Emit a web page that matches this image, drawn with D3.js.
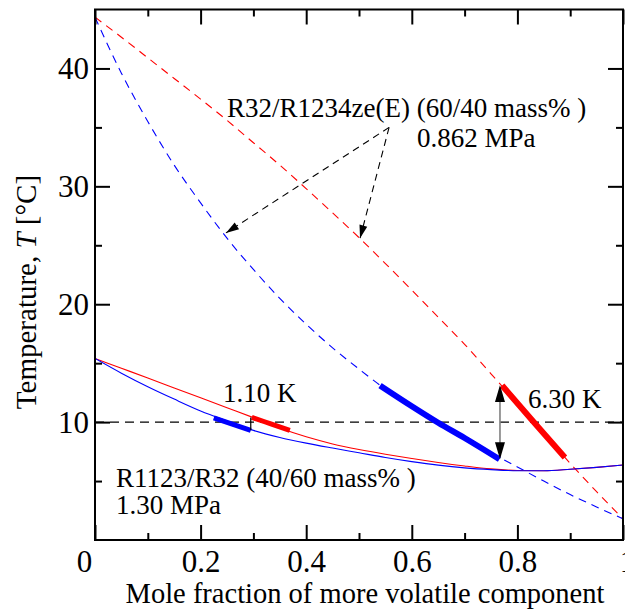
<!DOCTYPE html>
<html>
<head>
<meta charset="utf-8">
<script src="https://cdn.jsdelivr.net/npm/d3@7"></script>
<style>
  body { margin: 0; background: #fff; }
  svg { display: block; }
  text { font-family: "Liberation Serif", "Times New Roman", serif; fill: #000; }
</style>
</head>
<body>
<svg id="chart" width="625" height="611"></svg>
<script>
// Mole fraction of the more volatile component (shared grid)
const moleFrac = [0, 0.05, 0.1, 0.15, 0.2, 0.25, 0.3, 0.35, 0.4, 0.45, 0.5,
                  0.55, 0.6, 0.65, 0.7, 0.75, 0.8, 0.85, 0.9, 0.95, 1.0];

// R1123/R32 (40/60 mass%) at 1.30 MPa — saturation temperatures [°C]
const r1123Bubble = [15.4, 14.15, 13.0, 11.95, 10.95, 10.1, 9.3, 8.7, 8.22, 7.8, 7.4,
                     7.0, 6.65, 6.35, 6.12, 5.97, 5.88, 5.88, 6.0, 6.16, 6.36];
const r1123Dew    = [15.4, 14.57, 13.74, 12.9, 12.06, 11.22, 10.38, 9.5, 8.75, 8.15, 7.68,
                     7.28, 6.92, 6.58, 6.28, 6.03, 5.9, 5.88, 6.0, 6.16, 6.36];

// R32/R1234ze(E) (60/40 mass%) at 0.862 MPa — saturation temperatures [°C]
const zeBubble = [44.35, 39.6, 35.5, 31.8, 28.6, 25.6, 22.95, 20.5, 18.3, 16.3, 14.5,
                  12.8, 11.35, 9.95, 8.65, 7.4, 6.2, 5.0, 3.85, 2.8, 1.8];
const zeDew    = [44.35, 42.65, 40.9, 39.15, 37.4, 35.6, 33.7, 31.8, 29.8, 27.75, 25.65,
                  23.45, 21.2, 18.9, 16.6, 14.1, 11.6, 9.05, 6.5, 4.1, 1.8];

// Operating (glide) segments on each curve: [mole fraction, T]
const r1123BubbleSeg = [[0.225, 10.35], [0.26, 9.82], [0.295, 9.3]];
const r1123DewSeg    = [[0.297, 10.4], [0.333, 9.85], [0.369, 9.3]];
const zeBubbleSeg    = [[0.54, 13.1], [0.6, 11.35], [0.65, 9.95], [0.7, 8.65], [0.766, 6.85]];
const zeDewSeg       = [[0.771, 13.1], [0.83, 10.05], [0.89, 7.0]];

// Temperature glides and where they are marked
const glideK   = [1.10, 6.30];
const glideX   = [0.295, 0.767];
const glideTop = [10.4, 13.15];

// Reference isotherm
const isothermT = 10;

// Axis ticks
const xMajor = [0, 0.2, 0.4, 0.6, 0.8, 1.0];
const xMinor = [0.1, 0.3, 0.5, 0.7, 0.9];
const yMajor = [10, 20, 30, 40];
const yMinor = [5, 15, 25, 35];

// Callout for the R32/R1234ze(E) pair: common origin and two arrow tips
const calloutFrom = [0.557, 35.0];
const calloutTips = [[0.248, 26.05], [0.502, 25.6]];

const svg = d3.select("#chart");
const m = { left: 95, right: 2, top: 9.5, bottom: 71 };
const W = 625, H = 611;
const x = d3.scaleLinear().domain([0, 1]).range([m.left, W - m.right]);
const y = d3.scaleLinear().domain([0, 45]).range([H - m.bottom, m.top]);

svg.append("defs").append("clipPath").attr("id", "plotClip")
  .append("rect")
  .attr("x", x(0)).attr("y", y(45))
  .attr("width", x(1) - x(0)).attr("height", y(0) - y(45));

const plot = svg.append("g").attr("clip-path", "url(#plotClip)");

const curve = d3.line().x(d => x(d[0])).y(d => y(d[1])).curve(d3.curveMonotoneX);
const pairs = vals => moleFrac.map((f, i) => [f, vals[i]]);

// Isotherm
plot.append("line")
  .attr("x1", x(0)).attr("x2", x(1))
  .attr("y1", y(isothermT)).attr("y2", y(isothermT))
  .attr("stroke", "#000").attr("stroke-width", 1.1).attr("stroke-dasharray", "9,6");

// Saturation curves
const curves = [
  { data: zeDew, color: "#ff0000", dash: "8,6" },
  { data: zeBubble, color: "#0000ff", dash: "8,6" },
  { data: r1123Dew, color: "#ff0000", dash: null },
  { data: r1123Bubble, color: "#0000ff", dash: null }
];
curves.forEach(c => {
  plot.append("path")
    .attr("d", curve(pairs(c.data)))
    .attr("fill", "none")
    .attr("stroke", c.color)
    .attr("stroke-width", 1.1)
    .attr("stroke-dasharray", c.dash);
});

// Glide segments (thick)
[
  { data: r1123BubbleSeg, color: "#0000ff", w: 5 },
  { data: r1123DewSeg, color: "#ff0000", w: 5 },
  { data: zeBubbleSeg, color: "#0000ff", w: 6 },
  { data: zeDewSeg, color: "#ff0000", w: 6 }
].forEach(s => {
  plot.append("path")
    .attr("d", curve(s.data))
    .attr("fill", "none")
    .attr("stroke", s.color)
    .attr("stroke-width", s.w);
});

// Arrowhead polygon pointing from (x0,y0) to tip (x1,y1), in pixels
function arrowHead(x0, y0, x1, y1, len, half) {
  const a = Math.atan2(y1 - y0, x1 - x0);
  const bx = x1 - len * Math.cos(a), by = y1 - len * Math.sin(a);
  const px = -Math.sin(a) * half, py = Math.cos(a) * half;
  return [[x1, y1], [bx + px, by + py], [bx - px, by - py]];
}

// Small glide marker (1.10 K)
svg.append("line")
  .attr("x1", x(glideX[0])).attr("x2", x(glideX[0]))
  .attr("y1", y(glideTop[0])).attr("y2", y(glideTop[0] - glideK[0]))
  .attr("stroke", "#000").attr("stroke-width", 1.2);

// Double arrow for the larger glide (6.30 K)
{
  const gx = x(glideX[1]);
  const yt = y(glideTop[1]), yb = y(glideTop[1] - glideK[1]);
  svg.append("line")
    .attr("x1", gx).attr("x2", gx).attr("y1", yt + 10).attr("y2", yb - 10)
    .attr("stroke", "#808080").attr("stroke-width", 1.6);
  [[gx, yb, gx, yt], [gx, yt, gx, yb]].forEach(p => {
    svg.append("polygon")
      .attr("points", arrowHead(p[0], p[1], p[2], p[3], 17, 5).join(" "))
      .attr("fill", "#000");
  });
}

// Dashed callout arrows
calloutTips.forEach(t => {
  const x0 = x(calloutFrom[0]), y0 = y(calloutFrom[1]);
  const x1 = x(t[0]), y1 = y(t[1]);
  svg.append("line")
    .attr("x1", x0).attr("y1", y0).attr("x2", x1).attr("y2", y1)
    .attr("stroke", "#000").attr("stroke-width", 1.1).attr("stroke-dasharray", "7,5");
  svg.append("polygon")
    .attr("points", arrowHead(x0, y0, x1, y1, 13, 4).join(" "))
    .attr("fill", "#000");
});

// Axes: ticks point inward on all four sides
const tickStyle = g => {
  g.select(".domain").remove();
  g.selectAll(".tick line").attr("stroke", "#000").attr("stroke-width", 2);
  g.selectAll(".tick text").style("font-size", "31px")
    .style("font-family", '"Liberation Serif", "Times New Roman", serif');
};

const xAxis = svg.append("g").attr("transform", `translate(0,${y(0)})`)
  .call(d3.axisBottom(x).tickValues(xMajor).tickSize(-15).tickPadding(10)
        .tickFormat(d => d === 0 ? "0" : d === 1 ? "1" : d3.format(".1f")(d)))
  .call(tickStyle);
xAxis.selectAll(".tick text").attr("dx", d => d === 0 ? -11 : d === 1 ? 4 : 0);
svg.append("g").attr("transform", `translate(0,${y(0)})`)
  .call(d3.axisBottom(x).tickValues(xMinor).tickSize(-7).tickFormat(""))
  .call(tickStyle);
svg.append("g").attr("transform", `translate(0,${y(45)})`)
  .call(d3.axisTop(x).tickValues(xMajor).tickSize(-15).tickFormat(""))
  .call(tickStyle);
svg.append("g").attr("transform", `translate(0,${y(45)})`)
  .call(d3.axisTop(x).tickValues(xMinor).tickSize(-7).tickFormat(""))
  .call(tickStyle);

svg.append("g").attr("transform", `translate(${x(0)},0)`)
  .call(d3.axisLeft(y).tickValues(yMajor).tickSize(-15).tickPadding(6))
  .call(tickStyle);
svg.append("g").attr("transform", `translate(${x(0)},0)`)
  .call(d3.axisLeft(y).tickValues(yMinor).tickSize(-7).tickFormat(""))
  .call(tickStyle);
svg.append("g").attr("transform", `translate(${x(1)},0)`)
  .call(d3.axisRight(y).tickValues(yMajor).tickSize(-15).tickFormat(""))
  .call(tickStyle);
svg.append("g").attr("transform", `translate(${x(1)},0)`)
  .call(d3.axisRight(y).tickValues(yMinor).tickSize(-7).tickFormat(""))
  .call(tickStyle);

// Frame
svg.append("rect")
  .attr("x", x(0)).attr("y", y(45))
  .attr("width", x(1) - x(0)).attr("height", y(0) - y(45))
  .attr("fill", "none").attr("stroke", "#000").attr("stroke-width", 2);

// Axis titles
svg.append("text")
  .attr("x", 365).attr("y", 603)
  .attr("text-anchor", "middle").style("font-size", "28.5px")
  .text("Mole fraction of more volatile component");

const yTitle = svg.append("text")
  .attr("transform", "translate(36,292) rotate(-90)")
  .attr("text-anchor", "middle").style("font-size", "29px");
yTitle.append("tspan").text("Temperature, ");
yTitle.append("tspan").style("font-style", "italic").text("T");
yTitle.append("tspan").text(" [°C]");

// Annotations
const note = (px, py, str) => svg.append("text")
  .attr("x", px).attr("y", py).style("font-size", "27px").text(str);
note(227, 117, "R32/R1234ze(E) (60/40 mass% )");
note(417, 147, "0.862 MPa");
note(116, 487, "R1123/R32 (40/60 mass% )");
note(116, 514, "1.30 MPa");
note(223, 402, glideK[0].toFixed(2) + " K");
note(528, 408, glideK[1].toFixed(2) + " K");
</script>
</body>
</html>
